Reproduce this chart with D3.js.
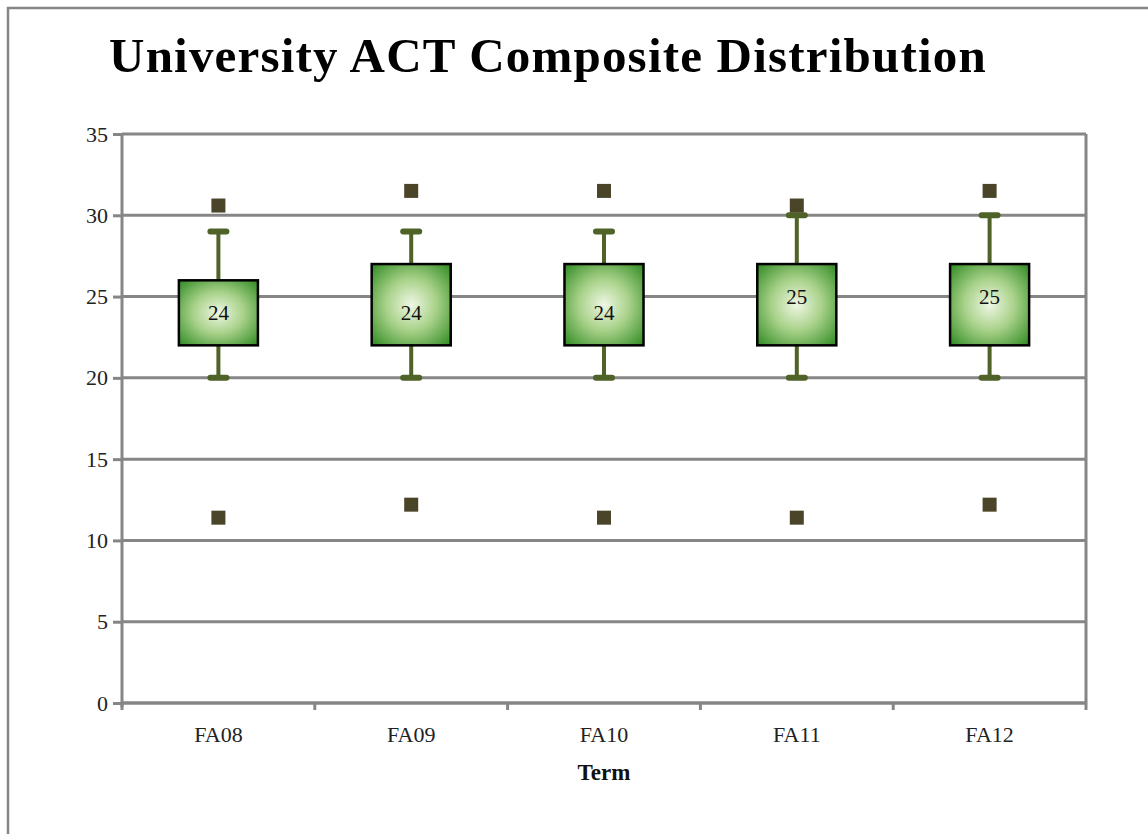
<!DOCTYPE html>
<html><head><meta charset="utf-8">
<script src="https://cdn.jsdelivr.net/npm/d3@7"></script>
<style>body{margin:0;background:#fff;} svg{display:block;}</style>
</head><body>
<svg id="c" width="1148" height="834"></svg>
<script>
const terms = ["FA08","FA09","FA10","FA11","FA12"];
const q1 = [22,22,22,22,22];
const q3 = [26,27,27,27,27];
const medians = [24,24,24,25,25];
const whiskerLow = [20,20,20,20,20];
const whiskerHigh = [29,29,29,30,30];
const outlierHigh = [30.6,31.5,31.5,30.6,31.5];
const outlierLow = [11.4,12.2,11.4,11.4,12.2];
const yTicks = [0,5,10,15,20,25,30,35];

const svg = d3.select("#c");
const serif = "'Liberation Serif','DejaVu Serif',serif";
const m = {left:122, right:1086, top:134, bottom:703};

// outer frame
svg.append("rect").attr("x",8).attr("y",8).attr("width",1160).attr("height",860)
  .attr("fill","none").attr("stroke","#868686").attr("stroke-width",2.5);

const x = d3.scaleBand().domain(terms).range([m.left,m.right]);
const y = d3.scaleLinear().domain([0,35]).range([m.bottom,m.top]);

const defs = svg.append("defs");
const g = defs.append("radialGradient").attr("id","boxg").attr("cx","50%").attr("cy","50%").attr("r","70%");
g.append("stop").attr("offset","0%").attr("stop-color","#eef7e4");
g.append("stop").attr("offset","45%").attr("stop-color","#a9d28a");
g.append("stop").attr("offset","100%").attr("stop-color","#2f8a22");

// gridlines
svg.append("g").selectAll("line").data(yTicks).join("line")
  .attr("x1",m.left).attr("x2",m.right).attr("y1",d=>y(d)).attr("y2",d=>y(d))
  .attr("stroke","#868686").attr("stroke-width",3);

// y axis
const ya = svg.append("g").attr("transform",`translate(${m.left},0)`)
  .call(d3.axisLeft(y).tickValues(yTicks).tickSize(9).tickPadding(5));
ya.select(".domain").attr("stroke","#868686").attr("stroke-width",3).attr("d",`M0,${m.top}V${m.bottom+4}`);
ya.selectAll(".tick line").attr("stroke","#868686").attr("stroke-width",3);
ya.selectAll("text").attr("font-family",serif).attr("font-size",22).attr("fill","#222");

// x axis
const xa = svg.append("g").attr("transform",`translate(0,${m.bottom})`)
  .call(d3.axisBottom(x).tickSize(0).tickPadding(23));
xa.select(".domain").attr("stroke","#868686").attr("stroke-width",3).attr("d",`M${m.left},0H${m.right}`);
xa.selectAll("text").attr("font-family",serif).attr("font-size",22).attr("fill","#222");
// x boundary ticks
const bounds = terms.map(t=>x(t)).concat([m.right]);
xa.append("g").selectAll("line").data(bounds).join("line")
  .attr("x1",d=>d).attr("x2",d=>d).attr("y1",0).attr("y2",7)
  .attr("stroke","#868686").attr("stroke-width",3);
// right border
svg.append("line").attr("x1",m.right).attr("x2",m.right).attr("y1",m.top).attr("y2",m.bottom)
  .attr("stroke","#868686").attr("stroke-width",3);

const bw = x.bandwidth()*0.41;
const cx = t => x(t)+x.bandwidth()/2;
const data = terms.map((t,i)=>({t,q1:q1[i],q3:q3[i],med:medians[i],lo:whiskerLow[i],hi:whiskerHigh[i],oh:outlierHigh[i],ol:outlierLow[i]}));

const wc = "#4f6228";
const bx = svg.append("g");
// whiskers
bx.selectAll(".wu").data(data).join("line").attr("x1",d=>cx(d.t)).attr("x2",d=>cx(d.t))
  .attr("y1",d=>y(d.hi)).attr("y2",d=>y(d.q3)).attr("stroke",wc).attr("stroke-width",4);
bx.selectAll(".wl").data(data).join("line").attr("x1",d=>cx(d.t)).attr("x2",d=>cx(d.t))
  .attr("y1",d=>y(d.q1)).attr("y2",d=>y(d.lo)).attr("stroke",wc).attr("stroke-width",4);
// caps
["hi","lo"].forEach(k=>{
  bx.selectAll(".c"+k).data(data).join("line").attr("x1",d=>cx(d.t)-8).attr("x2",d=>cx(d.t)+8)
    .attr("y1",d=>y(d[k])).attr("y2",d=>y(d[k])).attr("stroke",wc).attr("stroke-width",6).attr("stroke-linecap","round");
});
// boxes
bx.selectAll("rect.box").data(data).join("rect").attr("class","box")
  .attr("x",d=>cx(d.t)-bw/2).attr("width",bw).attr("y",d=>y(d.q3)).attr("height",d=>y(d.q1)-y(d.q3))
  .attr("fill","url(#boxg)").attr("stroke","#000").attr("stroke-width",2.5);
// medians labels
bx.selectAll("text.med").data(data).join("text").attr("class","med")
  .attr("x",d=>cx(d.t)).attr("y",d=>y(d.med)).attr("dy","0.35em").attr("text-anchor","middle")
  .attr("font-family",serif).attr("font-size",21).attr("fill","#111").text(d=>d.med);
// outliers
["oh","ol"].forEach(k=>{
  bx.selectAll(".o"+k).data(data).join("rect").attr("x",d=>cx(d.t)-7).attr("y",d=>y(d[k])-7)
    .attr("width",14).attr("height",14).attr("fill","#4a4429");
});

// title
svg.append("text").attr("x",548).attr("y",72).attr("text-anchor","middle")
  .attr("font-family",serif).attr("font-weight","bold").attr("font-size",49).attr("letter-spacing",1.2).attr("fill","#000")
  .text("University ACT Composite Distribution");
svg.append("text").attr("x",604).attr("y",780).attr("text-anchor","middle")
  .attr("font-family",serif).attr("font-weight","bold").attr("font-size",23).attr("fill","#111")
  .text("Term");
</script>
</body></html>
